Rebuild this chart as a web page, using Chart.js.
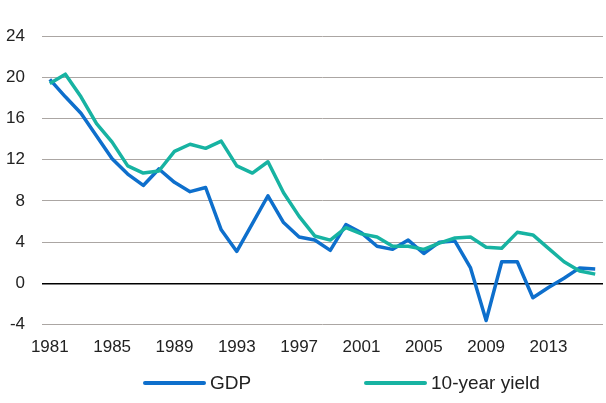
<!DOCTYPE html>
<html>
<head>
<meta charset="utf-8">
<script src="https://cdn.jsdelivr.net/npm/chart.js@4.4.1/dist/chart.umd.min.js"></script>
<style>
  html, body { margin: 0; padding: 0; background: #fff; }
  #wrap { position: relative; width: 606px; height: 403px; }
</style>
</head>
<body>
<div id="wrap"><canvas id="chart"></canvas></div>
<script>
// data
const years = ['1981','1982','1983','1984','1985','1986','1987','1988','1989','1990',
  '1991','1992','1993','1994','1995','1996','1997','1998','1999','2000',
  '2001','2002','2003','2004','2005','2006','2007','2008','2009','2010',
  '2011','2012','2013','2014','2015','2016'];
const gdp = [19.8, 18.1, 16.5, 14.3, 12.1, 10.6, 9.5, 11.1, 9.8, 8.9,
  9.3, 5.2, 3.1, 5.8, 8.5, 5.9, 4.5, 4.2, 3.2, 5.7,
  4.9, 3.6, 3.3, 4.2, 2.9, 4.0, 4.1, 1.5, -3.6, 2.1,
  2.1, -1.4, -0.4, 0.5, 1.5, 1.4];
const yield10 = [19.4, 20.3, 18.1, 15.5, 13.7, 11.4, 10.7, 10.9, 12.8, 13.5,
  13.1, 13.8, 11.4, 10.7, 11.8, 8.8, 6.5, 4.6, 4.2, 5.4,
  4.8, 4.5, 3.6, 3.6, 3.3, 3.9, 4.4, 4.5, 3.5, 3.4,
  4.95, 4.7, 3.4, 2.1, 1.2, 0.9];
const seriesNames = ['GDP', '10-year yield'];
const yTicks = { min: -4, max: 24, step: 4 };

const BLUE = '#0e6fcc';
const TEAL = '#17b3a2';
const FONT = "'Liberation Sans', Arial, sans-serif";

// legend drawn by hand so it sits where the original has it
const bottomLegend = {
  id: 'bottomLegend',
  afterDraw(chart) {
    const ctx = chart.ctx;
    const starts = [143, 364];
    const y = 383;
    ctx.save();
    ctx.font = '19px ' + FONT;
    ctx.textBaseline = 'middle';
    ctx.fillStyle = '#222';
    chart.data.datasets.forEach((ds, i) => {
      const x = starts[i];
      ctx.strokeStyle = ds.borderColor;
      ctx.lineWidth = 4;
      ctx.lineCap = 'round';
      ctx.beginPath();
      ctx.moveTo(x + 2, y);
      ctx.lineTo(x + 61, y);
      ctx.stroke();
      ctx.fillText(ds.label, x + 67, y + 1);
    });
    ctx.restore();
  }
};

const ctx = document.getElementById('chart').getContext('2d');
new Chart(ctx, {
  type: 'line',
  data: {
    labels: years,
    datasets: [
      { label: seriesNames[0], data: gdp, borderColor: BLUE, backgroundColor: BLUE,
        borderWidth: 3.5, pointRadius: 0, tension: 0, borderJoinStyle: 'round', order: 1 },
      { label: seriesNames[1], data: yield10, borderColor: TEAL, backgroundColor: TEAL,
        borderWidth: 3.5, pointRadius: 0, tension: 0, borderJoinStyle: 'round', order: 0 }
    ]
  },
  options: {
    responsive: true,
    maintainAspectRatio: false,
    animation: false,
    layout: { padding: { left: 6, right: 3, top: 36, bottom: 32 } },
    plugins: { legend: { display: false }, tooltip: { enabled: false } },
    scales: {
      x: {
        offset: true,
        grid: { display: false, drawTicks: false },
        border: { display: false },
        afterFit: s => { s.paddingLeft = 0; s.paddingRight = 0; },
        ticks: {
          autoSkip: false, maxRotation: 0, padding: 13,
          color: '#222', font: { family: FONT, size: 17 },
          callback: (v, i) => (i % 4 === 0 ? years[i] : '')
        }
      },
      y: {
        min: yTicks.min, max: yTicks.max,
        afterFit: s => { s.width = 36; },
        grid: {
          drawTicks: false,
          color: c => (c.tick.value === 0 ? '#000' : '#aba6a3'),
          lineWidth: c => (c.tick.value === 0 ? 1.5 : 1)
        },
        border: { display: false },
        ticks: {
          stepSize: yTicks.step, padding: 17,
          color: '#222', font: { family: FONT, size: 17 }
        }
      }
    }
  },
  plugins: [bottomLegend]
});
</script>
</body>
</html>
